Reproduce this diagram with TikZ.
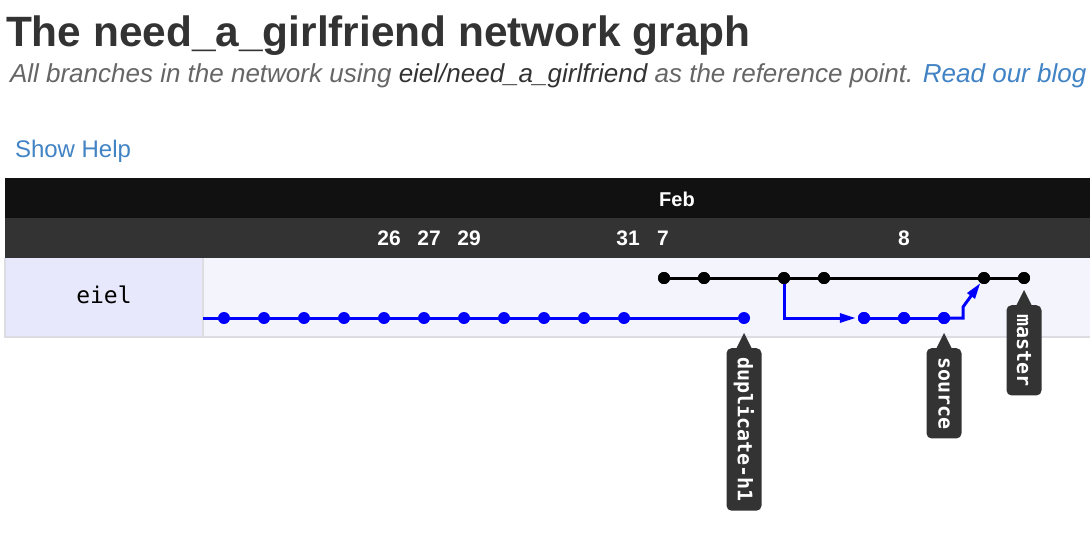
\documentclass[tikz,border=0pt]{standalone}
\usepackage{fontspec}
\setmainfont{Liberation Sans}
\newfontfamily\monof{DejaVu Sans Mono}
\usetikzlibrary{arrows.meta}
\definecolor{txtdark}{HTML}{333333}
\definecolor{txtgrey}{HTML}{666666}
\definecolor{linkblue}{HTML}{4183C4}
\definecolor{barblack}{HTML}{111111}
\definecolor{bargrey}{HTML}{333333}
\definecolor{cellleft}{RGB}{232,232,252}
\definecolor{cellright}{RGB}{244,244,253}
\definecolor{bordergrey}{RGB}{220,220,226}
\definecolor{lblfill}{HTML}{333333}
\definecolor{gblue}{RGB}{0,0,255}
\tikzset{
  txt/.style={inner sep=0pt, outer sep=0pt},
  bdot/.style={circle, fill=gblue, inner sep=0pt, minimum size=12pt},
  kdot/.style={circle, fill=black, inner sep=0pt, minimum size=12pt},
  bline/.style={draw=gblue, line width=3pt},
  kline/.style={draw=black, line width=3pt},
  barrow/.style={bline, -{Triangle[length=16pt,width=9pt]}},
  datelbl/.style={txt, anchor=base, text=white, font=\fontsize{21}{21}\selectfont\bfseries},
  lbl/.style={rotate=-90, anchor=west, fill=lblfill, text=white, rounded corners=5pt,
     minimum height=35pt, inner xsep=9pt, inner ysep=0pt,
     font=\monof\bfseries\fontsize{20}{20}\selectfont},
}
\begin{document}
\begin{tikzpicture}[x=1pt,y=-1pt]
\useasboundingbox (0,0) rectangle (1090,550);
\clip (0,0) rectangle (1090,550);
\fill[white] (0,0) rectangle (1090,550);
% header texts
\node[txt, anchor=base west, text=txtdark, font=\fontsize{42.4}{42.4}\selectfont\bfseries] (title) at (6,46) {The need\_a\_girlfriend network graph};
\node[txt, anchor=base west, text=txtgrey, font=\fontsize{26}{26}\selectfont\itshape] (sub) at (10,82)
  {All branches in the network using {\color{txtdark}eiel/need\_a\_girlfriend} as the reference point. {\color{linkblue}Read our blog p}};
\node[txt, anchor=base west, text=linkblue, font=\fontsize{24}{24}\selectfont] (help) at (15,157) {Show Help};
% bars
\fill[barblack] (5,178) rectangle (1090,218);
\fill[bargrey] (5,218) rectangle (1090,258);
\fill[cellleft] (5,258) rectangle (203,337);
\fill[cellright] (203,258) rectangle (1090,337);
\draw[bordergrey, line width=2pt] (203,258) -- (203,337);
\draw[bordergrey, line width=2pt] (5,258) -- (5,337);
\draw[bordergrey, line width=2pt] (4,337) -- (1090,337);
\node[txt, anchor=base, text=white, font=\fontsize{20}{20}\selectfont\bfseries] (feb) at (677,206) {Feb};
\node[datelbl] (d26) at (389,245) {26};
\node[datelbl] (d27) at (429,245) {27};
\node[datelbl] (d29) at (469,245) {29};
\node[datelbl] (d31) at (628,245) {31};
\node[datelbl] (d7) at (663,245) {7};
\node[datelbl] (d8) at (904,245) {8};
\node[txt, anchor=base, font=\monof\fontsize{23}{23}\selectfont] (user) at (104,303) {eiel};
% blue duplicate-h1 branch
\coordinate (bstart) at (203,318);
\foreach \i [evaluate=\i as \xx using 224+40*(\i-1)] in {1,...,11} {
  \node[bdot] (b\i) at (\xx,318) {};
}
\node[bdot] (b12) at (744,318) {};
\draw[bline] (bstart) -- (b12);
% master
\node[kdot] (m1) at (664,278) {};
\node[kdot] (m2) at (704,278) {};
\node[kdot] (m3) at (784,278) {};
\node[kdot] (m4) at (824,278) {};
\node[kdot] (m5) at (984,278) {};
\node[kdot] (m6) at (1024,278) {};
\draw[kline] (m1) -- (m6);
% source
\node[bdot] (s1) at (864,318) {};
\node[bdot] (s2) at (904,318) {};
\node[bdot] (s3) at (944,318) {};
\draw[barrow, shorten >=2pt] (m3.center) |- (s1);
\draw[bline] (s1) -- (s3);
\coordinate (c1) at (963,318);
\coordinate (c2) at (963,307);
\draw[barrow, line join=miter] (s3.center) -- (c1) -- (c2) -- (m5);
% redraw dots on top
\foreach \n in {s1,s2,s3} {\fill[gblue] (\n) circle (6pt);}
\foreach \n in {m1,m2,m3,m4,m5,m6} {\fill[black] (\n) circle (6pt);}
% labels
\node[lbl] (Ldup) at (744,348) {duplicate-h1};
\node[lbl] (Lsrc) at (944,348) {source};
\node[lbl] (Lmas) at (1024,305) {master};
\fill[lblfill] (744,333) -- ([xshift=9pt,yshift=-3pt]Ldup.west) -- ([xshift=-9pt,yshift=-3pt]Ldup.west) -- cycle;
\fill[lblfill] (944,333) -- ([xshift=9pt,yshift=-3pt]Lsrc.west) -- ([xshift=-9pt,yshift=-3pt]Lsrc.west) -- cycle;
\fill[lblfill] (1024,290) -- ([xshift=9pt,yshift=-3pt]Lmas.west) -- ([xshift=-9pt,yshift=-3pt]Lmas.west) -- cycle;
\end{tikzpicture}
\end{document}
